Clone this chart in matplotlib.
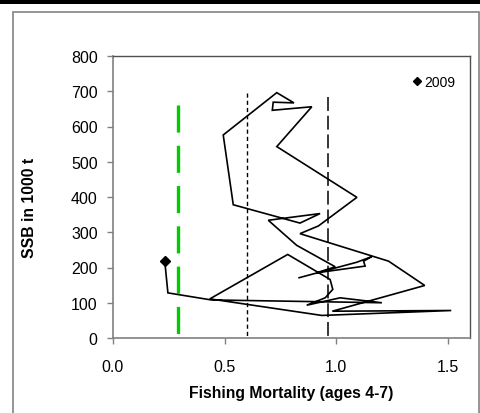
import matplotlib
matplotlib.use("Agg")
import matplotlib.pyplot as plt
from matplotlib.patches import Rectangle
from matplotlib.lines import Line2D

# Data: fishing mortality vs SSB, chronological path ending in 2009
F = [0.834, 1.093, 1.160, 1.123, 1.130, 0.913, 0.996, 0.823, 0.696, 0.928, 0.838,
     0.539, 0.494, 0.734, 0.811, 0.718, 0.714, 0.891, 0.734, 1.093, 0.921, 0.838,
     1.235, 1.397, 0.983, 1.516, 0.936, 0.434, 0.783, 0.973, 0.985, 0.951, 0.868,
     1.018, 1.205, 0.440, 0.246, 0.232]
SSB = [171, 215, 231, 218, 204, 185, 202, 263, 334, 353, 326,
       378, 576, 696, 667, 669, 646, 656, 543, 399, 318, 296,
       218, 149, 76, 78, 64, 111, 237, 166, 138, 114, 93,
       114, 100, 108, 128, 218]
last_label = "2009"

# Reference points
F_green = 0.29     # green reference line
F_short = 0.60     # short-dashed black
F_long = 0.963     # long-dashed black
green_top = 662
short_top = 696
long_top = 684

xticks = [0.0, 0.5, 1.0, 1.5]
yticks = [0, 100, 200, 300, 400, 500, 600, 700, 800]

plt.rcParams['font.family'] = ['Liberation Sans', 'DejaVu Sans']

W, H = 481, 414
fig = plt.figure(figsize=(W / 100, H / 100), dpi=100)

# outer decorations
fig.patches.append(Rectangle((0, 1 - 5 / H), 1, 5 / H, transform=fig.transFigure,
                             facecolor='black', edgecolor='none'))
fig.patches.append(Rectangle((12.5 / W, -0.05), (479 - 12.5) / W, 1 - 12.5 / H + 0.05,
                             transform=fig.transFigure, facecolor='none',
                             edgecolor='#8c8c8c', linewidth=1.3))

ax = fig.add_axes([113 / W, 1 - 339 / H, (470 - 113) / W, (339 - 57) / H])
ax.set_xlim(0, 1.6)
ax.set_ylim(0, 800)

ax.plot(F, SSB, color='black', lw=1.2, solid_joinstyle='miter', zorder=3)
ax.plot([F[-1]], [SSB[-1]], marker='D', color='black', ms=5.5, ls='none', zorder=4)

g, = ax.plot([F_green, F_green], [green_top, 0], color='#00CC00', lw=2.4, zorder=2)
g.set_dashes([19.5 / 2.4, 9.5 / 2.4])
s, = ax.plot([F_short, F_short], [short_top, 0], color='black', lw=1.0, zorder=2)
s.set_dashes([3.0, 2.2])
l, = ax.plot([F_long, F_long], [long_top, 0], color='black', lw=1.1, zorder=2)
l.set_dashes([10.0 / 1.1, 3.5 / 1.1])

ax.set_xticks(xticks)
ax.set_xticklabels([f"{v:.1f}" for v in xticks])
ax.set_yticks(yticks)
ax.tick_params(axis='both', labelsize=11.5, colors='#808080', labelcolor='black',
               length=4, width=1)
ax.tick_params(axis='x', pad=11)
ax.tick_params(axis='y', pad=7)
for sp in ['left', 'bottom']:
    ax.spines[sp].set_color('#808080')
    ax.spines[sp].set_linewidth(1.2)
for sp in ['top', 'right']:
    ax.spines[sp].set_color('#505050')
    ax.spines[sp].set_linewidth(1.0)

ax.set_xlabel('Fishing Mortality (ages 4-7)', fontsize=11.3, fontweight='bold', labelpad=8)
fig.text(30 / W, 1 - 208 / H, 'SSB in 1000 t', rotation=90, fontsize=11.3,
         fontweight='bold', ha='center', va='center')

handle = Line2D([], [], marker='D', color='black', ls='none', ms=4.5)
ax.legend([handle], [last_label], loc='upper right', bbox_to_anchor=(0.985, 0.968),
          frameon=False, fontsize=10, handletextpad=0.05, handlelength=0.9,
          borderaxespad=0.3)

fig.savefig('out.png', dpi=100)
